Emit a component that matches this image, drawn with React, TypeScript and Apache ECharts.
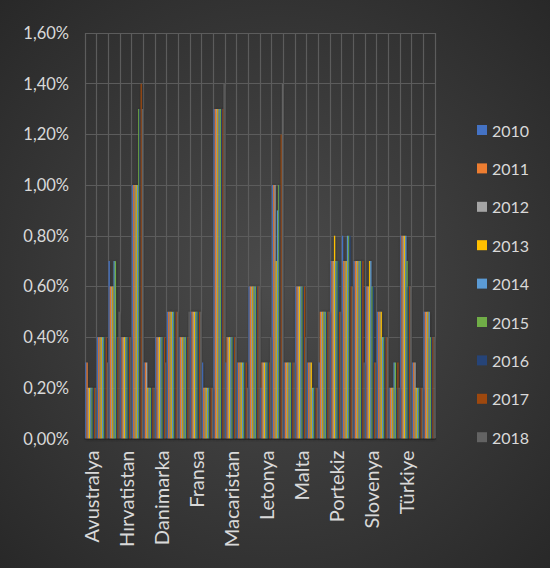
import React, { useEffect, useRef } from "react";
import * as echarts from "echarts";

const categories = [
  "Avustralya", "Avusturya", "Belçika", "Hırvatistan", "Kıbrıs", "Çekya",
  "Danimarka", "Estonya", "Finlandiya", "Fransa", "Almanya", "Yunanistan",
  "Macaristan", "İrlanda", "İtalya", "Letonya", "Litvanya", "Lüksemburg",
  "Malta", "Hollanda", "Polonya", "Portekiz", "Romanya", "Slovakya",
  "Slovenya", "İspanya", "İsveç", "Türkiye", "Birleşik Krallık", "ABD",
];

const years = ["2010", "2011", "2012", "2013", "2014", "2015", "2016", "2017", "2018"];
const colors = ["#4472C4", "#ED7D31", "#A5A5A5", "#FFC000", "#5B9BD5", "#70AD47", "#264478", "#9E480E", "#636363"];

// values in percent
const v2010 = [0.3, 0.4, 0.7, 0.4, 1.0, 0.3, 0.4, 0.5, 0.4, 0.5, 0.3, 1.3, 0.3, 0.3, 0.6, 0.2, 1.0, 0.3, 0.6, 0.3, 0.3, 0.7, 0.8, 0.7, 0.6, 0.5, 0.2, 0.8, 0.3, 0.5];
const v2011 = [0.3, 0.4, 0.6, 0.4, 1.0, 0.3, 0.4, 0.5, 0.4, 0.5, 0.2, 1.3, 0.4, 0.3, 0.6, 0.3, 1.0, 0.3, 0.6, 0.3, 0.5, 0.7, 0.7, 0.7, 0.6, 0.5, 0.2, 0.8, 0.3, 0.5];
const v2012 = [0.2, 0.4, 0.6, 0.4, 1.0, 0.3, 0.4, 0.5, 0.4, 0.5, 0.2, 1.3, 0.4, 0.3, 0.6, 0.3, 1.0, 0.3, 0.6, 0.3, 0.5, 0.7, 0.7, 0.7, 0.6, 0.5, 0.2, 0.8, 0.3, 0.5];
const v2013 = [0.2, 0.4, 0.6, 0.4, 1.0, 0.2, 0.4, 0.5, 0.4, 0.5, 0.2, 1.3, 0.4, 0.3, 0.6, 0.3, 0.7, 0.3, 0.6, 0.3, 0.5, 0.8, 0.7, 0.7, 0.7, 0.5, 0.2, 0.8, 0.2, 0.5];
const v2014 = [0.2, 0.4, 0.7, 0.4, 1.0, 0.2, 0.4, 0.5, 0.4, 0.5, 0.2, 1.3, 0.4, 0.3, 0.6, 0.3, 0.9, 0.3, 0.6, 0.2, 0.5, 0.7, 0.8, 0.7, 0.7, 0.4, 0.3, 0.8, 0.2, 0.5];
const v2015 = [0.2, 0.4, 0.7, 0.4, 1.3, 0.2, 0.4, 0.5, 0.4, 0.5, 0.2, 1.3, 0.4, 0.3, 0.6, 0.3, 1.0, 0.3, 0.6, 0.2, 0.5, 0.7, 0.8, 0.7, 0.6, 0.4, 0.3, 0.7, 0.2, 0.4];
const v2016 = [0.2, 0.4, 0.4, 0.4, 1.3, 0.2, 0.4, 0.5, 0.4, 0.5, 0.2, 1.3, 0.4, 0.3, 0.6, 0.3, 1.0, 0.3, 0.6, 0.2, 0.5, 0.7, 0.8, 0.7, 0.6, 0.4, 0.2, 0.6, 0.2, 0.4];
const v2017 = [0.2, 0.4, 0.4, 0.4, 1.4, 0.2, 0.4, 0.5, 0.4, 0.5, 0.2, 1.3, 0.4, 0.3, 0.6, 0.3, 1.2, 0.3, 0.6, 0.2, 0.5, 0.5, 0.6, 0.7, 0.3, 0.4, 0.3, 0.6, 0.2, 0.4];
const v2018 = [0.2, 0.3, 0.5, 0.4, 1.3, 0.2, 0.3, 0.5, 0.5, 0.5, 0.2, 1.4, 0.4, 0.2, 0.6, 0.4, 1.4, 0.3, 0.4, 0.2, 0.5, 0.5, 0.6, 0.3, 0.3, 0.4, 0.2, 0.6, 0.2, 0.4];

const seriesValues = [v2010, v2011, v2012, v2013, v2014, v2015, v2016, v2017, v2018];

const FONT = "Lato, 'Liberation Sans', sans-serif";
const TEXT = "#d9d9d9";

export default function App() {
  const ref = useRef<HTMLDivElement>(null);
  useEffect(() => {
    document.body.style.margin = "0";
    const chart = echarts.init(ref.current as HTMLDivElement, null, { renderer: "svg" });
    chart.setOption({
      animation: false,
      backgroundColor: new echarts.graphic.RadialGradient(0.5, 0.5, 0.75, [
        { offset: 0, color: "#4b4b4b" },
        { offset: 1, color: "#262626" },
      ]),
      color: colors,
      grid: { left: 85, right: 115, top: 33, bottom: 129.5, containLabel: false },
      legend: {
        orient: "vertical",
        left: 472,
        top: 117,
        icon: "rect",
        itemWidth: 10,
        itemHeight: 10,
        itemGap: 22.4,
        data: years,
        textStyle: { color: TEXT, fontSize: 16, fontFamily: FONT, lineHeight: 16 },
      },
      xAxis: {
        type: "category",
        data: categories,
        boundaryGap: true,
        axisLine: { show: true, lineStyle: { color: "#2e2e2e", width: 2 } },
        axisTick: { show: false },
        axisLabel: {
          interval: 2,
          rotate: 90,
          margin: 12,
          color: TEXT,
          fontSize: 20,
          fontFamily: FONT,
        },
        splitLine: { show: true, interval: 0, lineStyle: { color: "#5c5c5c", width: 1.2 } },
      },
      yAxis: {
        type: "value",
        min: 0,
        max: 1.6,
        interval: 0.2,
        axisLine: { show: false },
        axisTick: { show: false },
        axisLabel: {
          color: TEXT,
          fontSize: 16.5,
          fontFamily: FONT,
          margin: 16,
          formatter: (v: number) => v.toFixed(2).replace(".", ",") + "%",
        },
        splitLine: { show: true, lineStyle: { color: "#5c5c5c", width: 1.2 } },
      },
      series: years.map((y, i) => ({
        name: y,
        type: "bar",
        data: seriesValues[i],
        barGap: "0%",
        barCategoryGap: "4%",
        itemStyle: {
          color: colors[i],
          shadowColor: "rgba(0,0,0,0.45)",
          shadowBlur: 4,
          shadowOffsetX: 1,
          shadowOffsetY: 1,
        },
      })),
    });
    return () => chart.dispose();
  }, []);
  return <div ref={ref} style={{ width: 550, height: 568 }} />;
}
